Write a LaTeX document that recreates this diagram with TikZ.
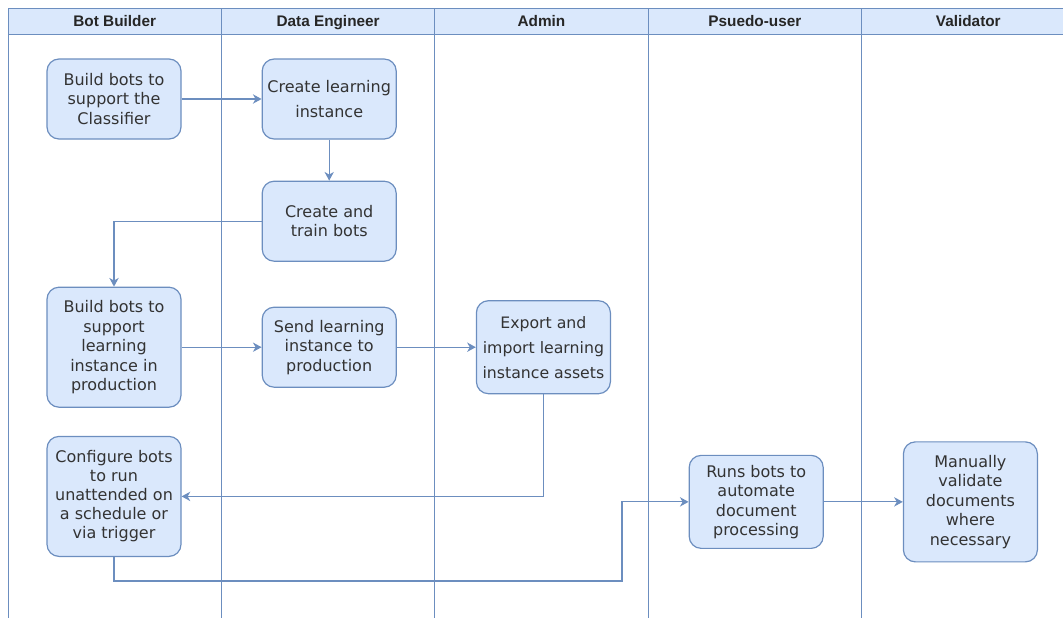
\documentclass[tikz,border=0pt]{standalone}
\usepackage{fontspec}
\setmainfont{DejaVu Sans}
\newfontfamily\headfont{Liberation Sans}
\usetikzlibrary{arrows.meta, positioning}
\definecolor{laneblue}{HTML}{6C8EBF}
\definecolor{boxfill}{HTML}{DAE8FC}
\definecolor{inktext}{HTML}{333333}
\tikzstyle{lanehead} = [rectangle, 
minimum width=160.05pt, 
minimum height=19.5pt, 
text height=9.4pt, text depth=0.6pt,
inner sep=0pt, outer sep=0pt,
fill=boxfill, draw=laneblue, line width=0.75pt,
text=black!85,
font=\headfont\bfseries\fontsize{11.5}{13}\selectfont]
\tikzstyle{laneline} = [draw=laneblue, line width=0.75pt]
\tikzstyle{task} = [rectangle, rounded corners=9pt, 
minimum width=100.5pt, 
minimum height=60pt, 
inner sep=2pt, 
align=center, 
text=inktext,
fill=boxfill, draw=laneblue, line width=0.9pt,
font=\fontsize{12}{14.6}\selectfont]
\tikzstyle{arrow} = [draw=laneblue, line width=0.9pt, -{Stealth[length=6.5pt, width=7pt, inset=2pt]}]

\begin{document}
\begin{tikzpicture}[x=0.75pt, y=-0.75pt]
        \useasboundingbox (0,0) rectangle (1063,618);

        % Carriles
        \node (hbot) [lanehead] at (114.7,21) {Bot Builder};
        \node (hdata) [lanehead, right=0pt of hbot] {Data Engineer};
        \node (hadmin) [lanehead, right=0pt of hdata] {Admin};
        \node (hpseudo) [lanehead, right=0pt of hadmin] {Psuedo-user};
        \node (hval) [lanehead, right=0pt of hpseudo] {Validator};
        \coordinate (floor) at (0,618);
        \draw [laneline] (hbot.south west) -- (hbot.south west |- floor);
        \draw [laneline] (hdata.south west) -- (hdata.south west |- floor);
        \draw [laneline] (hadmin.south west) -- (hadmin.south west |- floor);
        \draw [laneline] (hpseudo.south west) -- (hpseudo.south west |- floor);
        \draw [laneline] (hval.south west) -- (hval.south west |- floor);
        \draw [laneline] (hval.south east) -- (hval.south east |- floor);

        % Nodos
        \node (build) [task] at (114,99) {Build bots to\\support the\\Classifier};
        \node (instance) [task, right=60pt of build, font=\fontsize{12}{18.75}\selectfont] {Create learning\\instance};
        \node (train) [task, below=30.75pt of instance] {Create and\\train bots};
        \node (support) [task, minimum height=90pt, below=110.25pt of build] {Build bots to\\support\\learning\\instance in\\production};
        \node (send) [task, right=60pt of support] {Send learning\\instance to\\production};
        \node (export) [task, minimum height=69.75pt, right=59.25pt of send, font=\fontsize{11.8}{18.75}\selectfont] {Export and\\import learning\\instance assets};
        \node (config) [task, minimum height=90pt, below=21pt of support, font=\fontsize{12}{14.3}\selectfont] {Configure bots\\to run\\unattended on\\a schedule or\\via trigger};
        \node (run) [task, minimum height=69.75pt, right=380.25pt of config, yshift=-4.1pt] {Runs bots to\\automate\\document\\processing};
        \node (check) [task, minimum height=90pt, right=59.25pt of run] {Manually\\validate\\documents\\where\\necessary};
        \coordinate (detour) at (622,581);

        % Conexiones
        \draw [arrow] (build) -- (instance);
        \draw [arrow] (instance) -- (train);
        \draw [arrow] (train.west) -| (support.north);
        \draw [arrow] (support) -- (send);
        \draw [arrow] (send) -- (export);
        \draw [arrow] (export.south) |- (config.east);
        \draw [arrow] (config.south) |- (detour) |- (run.west);
        \draw [arrow] (run) -- (check);

    \end{tikzpicture}
\end{document}
